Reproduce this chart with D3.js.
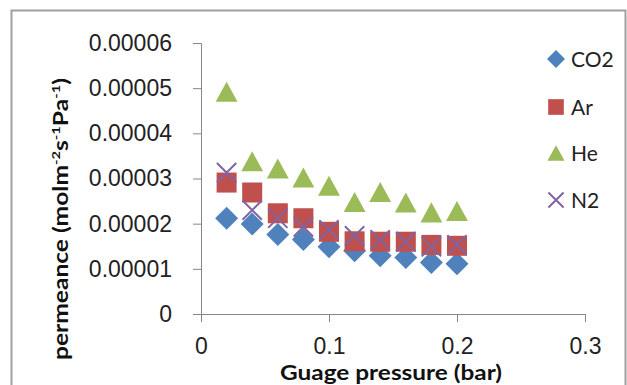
<!DOCTYPE html>
<html>
<head>
<meta charset="utf-8">
<script src="https://cdn.jsdelivr.net/npm/d3@7"></script>
<style>
  body { margin: 0; background: #fff; }
  svg { display: block; font-family: Lato, "Open Sans", sans-serif; }
</style>
</head>
<body>
<svg id="chart" width="627" height="385"></svg>
<script>
// data
const pressure = [0.02, 0.04, 0.06, 0.08, 0.10, 0.12, 0.14, 0.16, 0.18, 0.20];
const co2 = [2.12e-5, 1.99e-5, 1.76e-5, 1.65e-5, 1.49e-5, 1.40e-5, 1.29e-5, 1.25e-5, 1.14e-5, 1.11e-5];
const ar  = [2.91e-5, 2.69e-5, 2.23e-5, 2.12e-5, 1.82e-5, 1.61e-5, 1.60e-5, 1.60e-5, 1.53e-5, 1.51e-5];
const he  = [4.92e-5, 3.38e-5, 3.22e-5, 3.02e-5, 2.84e-5, 2.48e-5, 2.70e-5, 2.47e-5, 2.25e-5, 2.28e-5];
const n2  = [3.13e-5, 2.30e-5, 2.12e-5, 1.93e-5, 1.86e-5, 1.73e-5, 1.64e-5, 1.60e-5, 1.49e-5, 1.53e-5];
const xTicks = [0, 0.1, 0.2, 0.3];
const yTicks = [0, 0.00001, 0.00002, 0.00003, 0.00004, 0.00005, 0.00006];

const series = [
  { name: "CO2", values: co2, color: "#4f81bd", shape: "diamond" },
  { name: "Ar",  values: ar,  color: "#c0504d", shape: "square" },
  { name: "He",  values: he,  color: "#9bbb59", shape: "triangle" },
  { name: "N2",  values: n2,  color: "#8064a2", shape: "cross" }
];

const svg = d3.select("#chart");
const axisColor = "#868686";

// outer frame
svg.append("path")
  .attr("d", "M11.5,390 V10.5 H625.5 V390")
  .attr("fill", "none").attr("stroke", "#a0a0a0").attr("stroke-width", 2);

const x = d3.scaleLinear().domain([0, 0.3]).range([201, 585]);
const y = d3.scaleLinear().domain([0, 0.00006]).range([314, 43]);

// y axis
const yAxis = svg.append("g")
  .attr("transform", `translate(${x(0)},0)`)
  .call(d3.axisLeft(y).tickValues(yTicks).tickSize(8).tickPadding(21)
    .tickFormat(d => d === 0 ? "0" : d.toFixed(5)));
yAxis.select(".domain").attr("stroke", axisColor).attr("d", `M-8,${y(0.00006)}.5H0.5V${y(0)}`);
yAxis.selectAll(".tick line").attr("stroke", axisColor);
yAxis.selectAll(".tick text").attr("fill", "#222").style("font-size", "23px");

// x axis
const xAxis = svg.append("g")
  .attr("transform", `translate(0,${y(0)})`)
  .call(d3.axisBottom(x).tickValues(xTicks).tickSize(8).tickPadding(16)
    .tickFormat(d => d === 0 ? "0" : d.toFixed(1)));
xAxis.select(".domain").attr("stroke", axisColor).attr("d", `M${x(0)},0.5H${x(0.3)}.5V8`);
xAxis.selectAll(".tick line").attr("stroke", axisColor);
xAxis.selectAll(".tick text").attr("fill", "#222").style("font-size", "23px");

// axis titles
svg.append("text")
  .attr("x", 391).attr("y", 380)
  .attr("text-anchor", "middle")
  .style("font-size", "21px").style("font-weight", "bold").attr("fill", "#111")
  .attr("textLength", 222).attr("lengthAdjust", "spacingAndGlyphs")
  .text("Guage pressure (bar)");

const yt = svg.append("text")
  .attr("transform", "translate(68,219) rotate(-90)")
  .attr("text-anchor", "middle")
  .style("font-size", "20px").style("font-weight", "bold").attr("fill", "#111")
  .attr("textLength", 282).attr("lengthAdjust", "spacingAndGlyphs");
yt.append("tspan").text("permeance (molm");
yt.append("tspan").attr("dy", -8).style("font-size", "12px").text("-2");
yt.append("tspan").attr("dy", 8).text("s");
yt.append("tspan").attr("dy", -8).style("font-size", "12px").text("-1");
yt.append("tspan").attr("dy", 8).text("Pa");
yt.append("tspan").attr("dy", -8).style("font-size", "12px").text("-1");
yt.append("tspan").attr("dy", 8).text(")");

// marker drawing, size = full width of the marker
function drawMarker(g, shape, color, size) {
  const r = size / 2;
  if (shape === "diamond") {
    g.append("path").attr("d", `M0,${-r}L${r},0L0,${r}L${-r},0Z`).attr("fill", color);
  } else if (shape === "square") {
    const s = size * 0.87;
    g.append("rect").attr("x", -s / 2).attr("y", -s / 2)
      .attr("width", s).attr("height", s).attr("fill", color);
  } else if (shape === "triangle") {
    const h = size * 0.87, w = size * 0.95;
    g.append("path").attr("d", `M0,${-h / 2}L${w / 2},${h / 2}L${-w / 2},${h / 2}Z`).attr("fill", color);
  } else {
    const c = size * 0.42;
    g.append("path").attr("d", `M${-c},${-c}L${c},${c}M${-c},${c}L${c},${-c}`)
      .attr("stroke", color).attr("stroke-width", 2).attr("fill", "none");
  }
}

series.forEach(s => {
  const g = svg.append("g");
  s.values.forEach((v, i) => {
    const m = g.append("g").attr("transform", `translate(${x(pressure[i])},${y(v)})`);
    drawMarker(m, s.shape, s.color, 23);
  });
});

// legend
const legendY = [59, 107, 153, 200];
series.forEach((s, i) => {
  const lg = svg.append("g").attr("transform", `translate(556,${legendY[i]})`);
  drawMarker(lg, s.shape, s.color, 18);
  lg.append("text").attr("x", 15).attr("y", 7.5)
    .style("font-size", "21px").attr("fill", "#222").text(s.name);
});
</script>
</body>
</html>
